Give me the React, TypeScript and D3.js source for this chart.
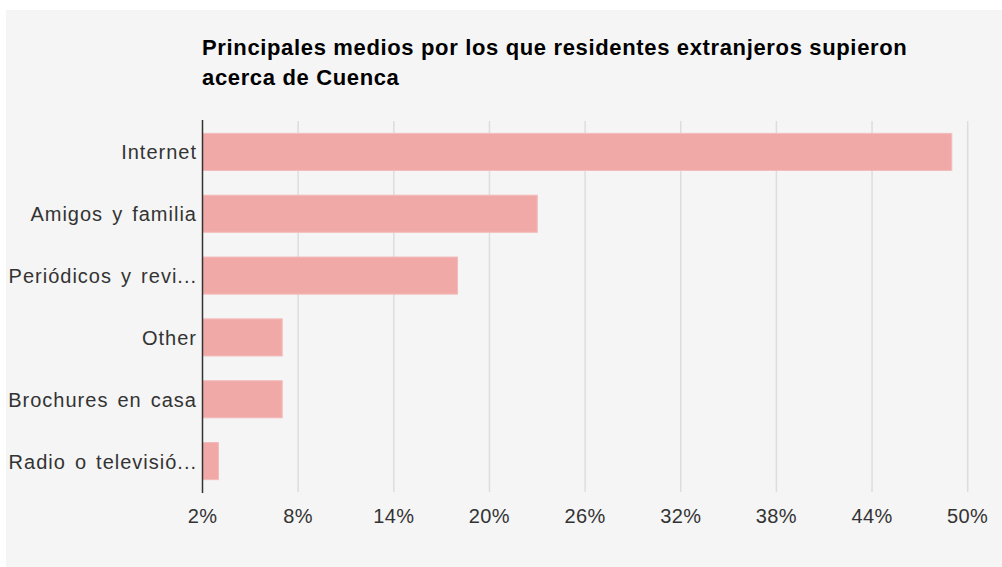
import React from "react";
import * as d3 from "d3";

const categories: string[] = [
  "Internet",
  "Amigos y familia",
  "Periódicos y revi...",
  "Other",
  "Brochures en casa",
  "Radio o televisió...",
];
const values: number[] = [49, 23, 18, 7, 7, 3];
const tickValues: number[] = [2, 8, 14, 20, 26, 32, 38, 44, 50];
const titleLines: string[] = [
  "Principales medios por los que residentes extranjeros supieron",
  "acerca de Cuenca",
];

const W = 1002;
const H = 567;
const FONT = "'Liberation Sans', Arial, sans-serif";

export default function App() {
  const x = d3.scaleLinear().domain([2, 50]).range([202.5, 967.7]);
  const y = d3
    .scaleBand<string>()
    .domain(categories)
    .range([121, 492])
    .paddingInner(0.4)
    .paddingOuter(0.2);

  return (
    <div style={{ position: "absolute", left: 0, top: 0 }}>
      <svg width={W} height={H} style={{ display: "block" }}>
        <rect x={0} y={0} width={W} height={H} fill="#ffffff" />
        <rect x={6} y={10} width={W - 6} height={H - 10} fill="#f5f5f5" />
        {titleLines.map((t, i) => (
          <text
            key={i}
            x={202}
            y={55 + i * 30}
            fontFamily={FONT}
            fontWeight="bold"
            fontSize={22}
            letterSpacing={0.65}
            fill="#000"
          >
            {t}
          </text>
        ))}
        {tickValues.slice(1).map((t) => (
          <line
            key={"g" + t}
            x1={x(t)}
            x2={x(t)}
            y1={121}
            y2={492}
            stroke="#dddddd"
            strokeWidth={1.5}
          />
        ))}
        {categories.map((c, i) => (
          <rect
            key={c}
            x={x(2)}
            y={y(c)!}
            width={x(values[i]) - x(2)}
            height={y.bandwidth()}
            fill="#f1a9a8"
            stroke="#f3bcbb"
            strokeWidth={1}
          />
        ))}
        <line
          x1={x(2)}
          x2={x(2)}
          y1={120}
          y2={493}
          stroke="#333333"
          strokeWidth={1.5}
        />
        {categories.map((c) => (
          <text
            key={"l" + c}
            x={197}
            y={y(c)! + y.bandwidth() / 2 + 7.5}
            textAnchor="end"
            fontFamily={FONT}
            fontSize={20}
            letterSpacing={1.0}
            wordSpacing={2.5}
            fill="#333"
          >
            {c}
          </text>
        ))}
        {tickValues.map((t) => (
          <text
            key={"t" + t}
            x={x(t)}
            y={523}
            textAnchor="middle"
            fontFamily={FONT}
            fontSize={20}
            letterSpacing={0.4}
            fill="#333"
          >
            {t + "%"}
          </text>
        ))}
      </svg>
    </div>
  );
}
